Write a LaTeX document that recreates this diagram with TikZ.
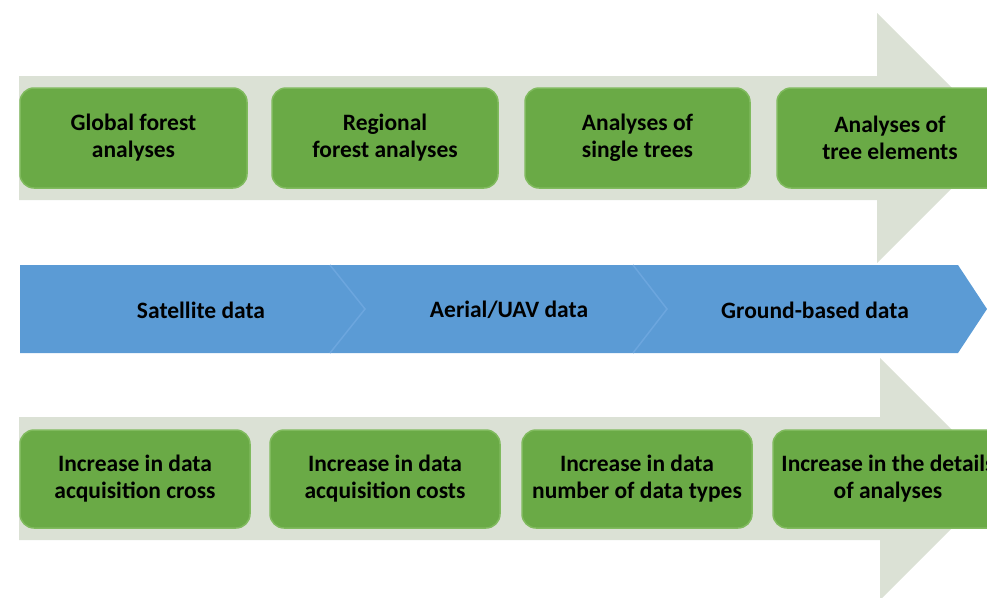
\documentclass[tikz,border=0pt]{standalone}
\usepackage{fontspec}
\setmainfont{Carlito}
\definecolor{arrowgray}{RGB}{219,225,213}
\definecolor{boxgreen}{RGB}{106,170,70}
\definecolor{boxedge}{RGB}{128,186,94}
\definecolor{bandblue}{RGB}{91,155,213}
\definecolor{chevron}{RGB}{108,166,222}
\tikzset{
  greenbox/.style={draw=boxedge, line width=1.5pt, fill=boxgreen, rounded corners=14pt,
    minimum height=100pt, align=center, font=\bfseries\fontsize{23.5}{27}\selectfont,
    text=black, inner sep=0pt},
  bandlabel/.style={font=\bfseries\fontsize{23.5}{27}\selectfont, text=black, inner sep=0pt},
  grayarrow/.style={fill=arrowgray, draw=none},
  chevronline/.style={draw=chevron, line width=1.5pt}
}
\begin{document}
\begin{tikzpicture}[x=1pt,y=-1pt]
\useasboundingbox (0,0) rectangle (987,597);
\clip (0,0) rectangle (987,597);
% gray arrows
\path[grayarrow] (19,76) -- (877,76) -- (877,13) -- (1002,138) -- (877,263) -- (877,200) -- (19,200) -- cycle;
\path[grayarrow] (19,417) -- (880,417) -- (880,358) -- (1001,479) -- (880,600) -- (880,540) -- (19,540) -- cycle;
% blue band
\path[fill=bandblue] (20,265) -- (958,265) -- (987,309) -- (958,353) -- (20,353) -- cycle;
\draw[chevronline] (330,265) -- (365,309) -- (330,353);
\draw[chevronline] (633,265) -- (667,309) -- (633,353);
\node[bandlabel] (sat) at (201,310) {Satellite data};
\node[bandlabel] (aer) at (509,310) {Aerial/UAV data};
\node[bandlabel] (gnd) at (815,310) {Ground-based data};
% top boxes
\node[greenbox, minimum width=227pt] (t1) at (133.5,138) {Global forest\\analyses};
\node[greenbox, minimum width=226pt] (t2) at (385,138) {Regional\\forest analyses};
\node[greenbox, minimum width=225pt] (t3) at (637.5,138) {Analyses of\\single trees};
\node[greenbox, minimum width=226pt] (t4) at (890,138) {Analyses of\\tree elements};
% bottom boxes
\node[greenbox, minimum width=230pt, minimum height=98pt] (b1) at (135,479) {Increase in data\\acquisition cross};
\node[greenbox, minimum width=230pt, minimum height=98pt] (b2) at (385,479) {Increase in data\\acquisition costs};
\node[greenbox, minimum width=230pt, minimum height=98pt] (b3) at (637,479) {Increase in data\\number of data types};
\node[greenbox, minimum width=230pt, minimum height=98pt] (b4) at (888,479) {Increase in the details\\of analyses};
\end{tikzpicture}
\end{document}
